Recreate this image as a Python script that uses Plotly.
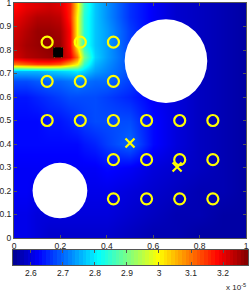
import plotly.graph_objects as go

# ---- data (values in units of 1e-5) ----
grid_x = [0.01, 0.05, 0.1, 0.15, 0.2, 0.24, 0.27, 0.3, 0.35, 0.4, 0.5, 0.6, 0.7, 0.8, 0.9, 0.99]
grid_y = [0.02, 0.1, 0.2, 0.3, 0.4, 0.5, 0.6, 0.67, 0.71, 0.74, 0.77, 0.82, 0.88, 0.94, 0.985]
field = [
    [2.61, 2.61, 2.60, 2.59, 2.59, 2.59, 2.59, 2.59, 2.59, 2.59, 2.58, 2.57, 2.57, 2.56, 2.56, 2.56],
    [2.61, 2.61, 2.60, 2.60, 2.60, 2.60, 2.60, 2.60, 2.60, 2.60, 2.59, 2.58, 2.57, 2.57, 2.56, 2.56],
    [2.62, 2.62, 2.61, 2.61, 2.61, 2.61, 2.61, 2.61, 2.61, 2.61, 2.60, 2.59, 2.58, 2.57, 2.57, 2.56],
    [2.62, 2.62, 2.62, 2.62, 2.62, 2.62, 2.62, 2.62, 2.62, 2.63, 2.62, 2.60, 2.59, 2.58, 2.57, 2.56],
    [2.63, 2.63, 2.63, 2.63, 2.63, 2.63, 2.63, 2.64, 2.65, 2.67, 2.70, 2.63, 2.60, 2.58, 2.57, 2.56],
    [2.63, 2.63, 2.63, 2.64, 2.64, 2.65, 2.66, 2.67, 2.68, 2.68, 2.68, 2.63, 2.60, 2.58, 2.57, 2.56],
    [2.64, 2.64, 2.65, 2.66, 2.67, 2.68, 2.68, 2.68, 2.68, 2.67, 2.65, 2.62, 2.60, 2.58, 2.57, 2.56],
    [2.68, 2.68, 2.69, 2.70, 2.70, 2.71, 2.72, 2.71, 2.70, 2.70, 2.67, 2.63, 2.60, 2.58, 2.57, 2.56],
    [2.76, 2.76, 2.76, 2.77, 2.78, 2.79, 2.80, 2.78, 2.74, 2.72, 2.68, 2.63, 2.60, 2.58, 2.57, 2.56],
    [3.10, 3.12, 3.14, 3.14, 3.12, 3.05, 3.00, 2.85, 2.76, 2.73, 2.68, 2.63, 2.60, 2.58, 2.57, 2.56],
    [3.22, 3.24, 3.25, 3.26, 3.25, 3.20, 3.10, 2.90, 2.78, 2.74, 2.68, 2.63, 2.60, 2.58, 2.57, 2.56],
    [3.23, 3.25, 3.26, 3.27, 3.26, 3.18, 3.00, 2.84, 2.77, 2.74, 2.67, 2.63, 2.60, 2.58, 2.57, 2.56],
    [3.22, 3.24, 3.26, 3.26, 3.25, 3.18, 3.00, 2.84, 2.77, 2.74, 2.67, 2.62, 2.60, 2.58, 2.57, 2.56],
    [3.20, 3.22, 3.24, 3.24, 3.23, 3.16, 3.00, 2.84, 2.77, 2.73, 2.66, 2.62, 2.59, 2.58, 2.57, 2.56],
    [3.18, 3.20, 3.21, 3.22, 3.21, 3.16, 3.02, 2.85, 2.77, 2.73, 2.66, 2.62, 2.59, 2.58, 2.57, 2.56],
]
z_min, z_max = 2.544, 3.278
n_colors = 64  # discrete steps of the colour bar (jet(64))

obstacle_cx = [0.655, 0.198]
obstacle_cy = [0.753, 0.202]
obstacle_r = [0.178, 0.118]

sensor_x = [1/7, 2/7, 3/7,
            1/7, 2/7, 3/7,
            1/7, 2/7, 3/7, 4/7, 5/7, 6/7,
            3/7, 4/7, 5/7, 6/7,
            3/7, 4/7, 5/7, 6/7]
sensor_y = [5/6, 5/6, 5/6,
            4/6, 4/6, 4/6,
            3/6, 3/6, 3/6, 3/6, 3/6, 3/6,
            2/6, 2/6, 2/6, 2/6,
            1/6, 1/6, 1/6, 1/6]

cross_x = [0.19, 0.50, 0.703]
cross_y = [0.79, 0.404, 0.302]

source_x = [0.19]
source_y = [0.79]

x_ticks = [0, 0.2, 0.4, 0.6, 0.8, 1]
x_labels = ["0", "0.2", "0.4", "0.6", "0.8", "1"]
y_ticks = [0, 0.1, 0.2, 0.3, 0.4, 0.5, 0.6, 0.7, 0.8, 0.9, 1]
y_labels = ["0", "0.1", "0.2", "0.3", "0.4", "0.5", "0.6", "0.7", "0.8", "0.9", "1"]
cb_ticks = [2.6, 2.7, 2.8, 2.9, 3.0, 3.1, 3.2]
cb_labels = ["2.6", "2.7", "2.8", "2.9", "3", "3.1", "3.2"]

jet = [
    [0.0, "rgb(0,0,143)"],
    [0.111, "rgb(0,0,255)"],
    [0.365, "rgb(0,255,255)"],
    [0.619, "rgb(255,255,0)"],
    [0.873, "rgb(255,0,0)"],
    [1.0, "rgb(128,0,0)"],
]

FONT = dict(family="Liberation Sans, Arial, sans-serif", size=8.5, color="#222222")

# colour-bar cells (scale, not data)
step = (z_max - z_min) / n_colors
cb_centers = [z_min + (i + 0.5) * step for i in range(n_colors)]

fig = go.Figure()
fig.add_trace(go.Heatmap(
    x=grid_x, y=grid_y, z=field, zmin=z_min, zmax=z_max,
    colorscale=jet, zsmooth="best", showscale=False,
    hoverinfo="skip", xaxis="x", yaxis="y",
))
fig.add_trace(go.Scatter(
    x=sensor_x, y=sensor_y, mode="markers",
    marker=dict(symbol="circle-open", size=11, color="#ffff00", line=dict(width=2.2, color="#ffff00")),
    showlegend=False, hoverinfo="skip",
))
fig.add_trace(go.Scatter(
    x=cross_x, y=cross_y, mode="markers",
    marker=dict(symbol="x-thin-open", size=9, color="#ffff00", line=dict(width=2.2, color="#ffff00")),
    showlegend=False, hoverinfo="skip",
))
fig.add_trace(go.Scatter(
    x=source_x, y=source_y, mode="markers",
    marker=dict(symbol="square", size=10, color="black"),
    showlegend=False, hoverinfo="skip",
))
# colour bar as its own small heatmap
fig.add_trace(go.Heatmap(
    x=cb_centers, y=[0], z=[cb_centers], zmin=z_min, zmax=z_max,
    colorscale=jet, showscale=False, hoverinfo="skip",
    xaxis="x2", yaxis="y2",
))

for cx, cy, r in zip(obstacle_cx, obstacle_cy, obstacle_r):
    fig.add_shape(type="circle", xref="x", yref="y", x0=cx - r, x1=cx + r, y0=cy - r, y1=cy + r,
                  fillcolor="white", line=dict(width=0), layer="above")

axis_common = dict(showgrid=False, zeroline=False, showline=True, linecolor="#555555", linewidth=1,
                   mirror="ticks", ticks="inside", ticklen=3, tickcolor="#555555", tickfont=FONT,
                   automargin=False, ticklabeloverflow="allow")

W, H = 249, 292
ml, mr, mt, mb = 13, 1, 2, 27
pw, ph = W - ml - mr, H - mt - mb
main_left, main_right, main_top, main_bottom = 14, 246, 3, 238
cb_top, cb_bottom = 250, 265

fig.update_layout(
    width=W, height=H,
    margin=dict(l=ml, r=mr, t=mt, b=mb),
    paper_bgcolor="white", plot_bgcolor="white",
    showlegend=False,
    xaxis=dict(domain=[(main_left - ml) / pw, (main_right - ml) / pw], range=[0, 1],
               tickvals=x_ticks, ticktext=x_labels, anchor="y", **axis_common),
    yaxis=dict(domain=[(H - mb - main_bottom) / ph, (H - mb - main_top) / ph], range=[0, 1],
               tickvals=y_ticks, ticktext=y_labels, anchor="x", **axis_common),
    xaxis2=dict(domain=[0, 1], range=[z_min, z_max], tickvals=cb_ticks, ticktext=cb_labels,
                anchor="y2", **axis_common),
    yaxis2=dict(domain=[0, (H - mb - cb_top) / ph], range=[-0.5, 0.5], showticklabels=False,
                anchor="x2", showgrid=False, zeroline=False, showline=True, linecolor="#555555",
                linewidth=1, mirror=True, ticks="", automargin=False),
)

fig.add_annotation(x=1.0, y=(H - mb - 287) / ph, xref="paper", yref="paper", xanchor="right", yanchor="middle",
                   text="x 10<sup>-5</sup>", showarrow=False,
                   font=dict(family=FONT["family"], size=8, color="#222222"))

fig.write_html(
    "out.html",
    config={"displayModeBar": False, "staticPlot": True},
    post_script="document.body.style.margin='0';document.body.style.padding='0';document.body.style.overflow='hidden';",
)
